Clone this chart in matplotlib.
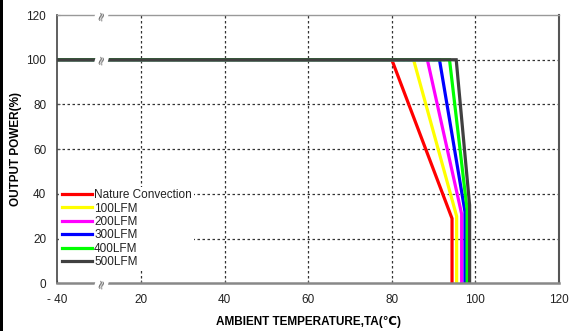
import numpy as np
import matplotlib
matplotlib.use("Agg")
import matplotlib.pyplot as plt
from matplotlib.patches import Rectangle

# derating curves: flat 100% until start_x, slope down to (bend_x, bend_y), then drop to 0
labels = ["Nature Convection", "100LFM", "200LFM", "300LFM", "400LFM", "500LFM"]
colors = ["#ff0000", "#ffff00", "#ff00ff", "#0000ff", "#00ff00", "#404040"]
start_x = [80, 85.2, 88.5, 91.4, 93.8, 95.4]
bend_x = [94.4, 95.5, 96.7, 97.5, 98.0, 98.6]
bend_y = [29, 30, 31, 32, 33, 35]

x_ticks = [-40, 20, 40, 60, 80, 100, 120]
y_ticks = [0, 20, 40, 60, 80, 100, 120]

plt.rcParams['font.family'] = ['Liberation Sans', 'DejaVu Sans']


def pos(v):
    """broken x axis: -40 sits one step left of 20"""
    return np.where(np.asarray(v) < 20, 0, v)


fig = plt.figure(figsize=(5.75, 3.31), dpi=100)
ax = fig.add_axes([0.0997, 0.144, 0.8726, 0.8106])

for lab, c, sx, bx, by in zip(labels, colors, start_x, bend_x, bend_y):
    xs = [-40, sx, bx, bx]
    ys = [100, 100, by, 0]
    ax.plot(pos(xs), ys, color=c, lw=2.3, label=lab, solid_joinstyle='miter')

ax.set_xlim(0, 120)
ax.set_ylim(0, 120)
ax.set_xticks(pos(x_ticks))
ax.set_xticklabels(["- 40"] + [str(t) for t in x_ticks[1:]])
ax.set_yticks(y_ticks)
ax.tick_params(axis='both', direction='in', length=2, labelsize=8.5,
               labelcolor='#222222', color='#555555', pad=8)

for v in [20, 40, 60, 80, 100]:
    ax.axvline(v, color='#333333', lw=0.9, ls=(0, (2, 2)), zorder=0)
    ax.axhline(v, color='#333333', lw=0.9, ls=(0, (2, 2)), zorder=0)

ax.spines['left'].set_color('#444444')
ax.spines['left'].set_linewidth(1.2)
ax.spines['right'].set_color('#555555')
ax.spines['right'].set_linewidth(1.5)
ax.spines['top'].set_color('#999999')
ax.spines['top'].set_linewidth(1.0)
ax.spines['bottom'].set_color('#888888')
ax.spines['bottom'].set_linewidth(1.8)

# axis break marks
for yb in [120, 100, 0]:
    ax.text(10.6, yb, "≈", rotation=75, ha='center', va='center', fontsize=9,
            color='#555555', family=['DejaVu Sans'], clip_on=False, zorder=5,
            bbox=dict(facecolor='white', edgecolor='none', pad=0.0))

leg = ax.legend(loc='upper left', bbox_to_anchor=(0.004, 0.36), fontsize=8.5,
                frameon=True, facecolor='white', edgecolor='none', framealpha=1,
                fancybox=False, borderpad=0.2, handlelength=2.6,
                handletextpad=0.15, labelspacing=0.12, borderaxespad=0)
for line in leg.get_lines():
    line.set_linewidth(2.3)
for t in leg.get_texts():
    t.set_color('#222222')

ax.set_xlabel("AMBIENT TEMPERATURE,TA(℃)", fontsize=8.5, fontweight='bold', labelpad=7)
ax.set_ylabel("OUTPUT POWER(%)", fontsize=8.5, fontweight='bold', labelpad=3)

fig.patches.append(Rectangle((0, 0), 0.006, 1, transform=fig.transFigure,
                             facecolor='black', edgecolor='none'))

fig.savefig("out.png", dpi=100)
